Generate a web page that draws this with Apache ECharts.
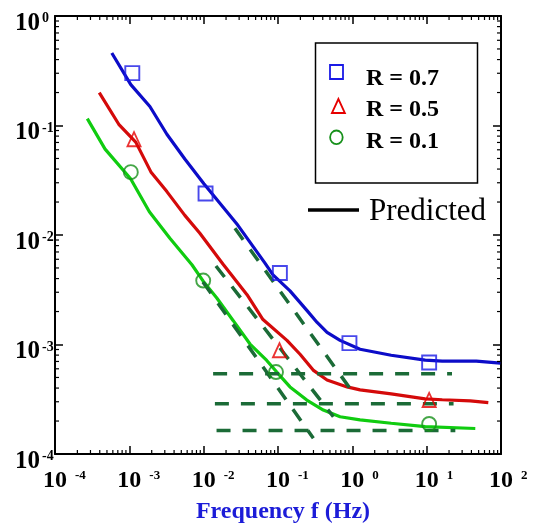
<!DOCTYPE html>
<html>
<head>
<meta charset="utf-8">
<script src="https://cdn.jsdelivr.net/npm/echarts@6.0.0/dist/echarts.min.js"></script>
<style>
  html, body { margin: 0; padding: 0; background: #ffffff; }
  #chart { width: 534px; height: 529px; }
</style>
</head>
<body>
<div id="chart"></div>
<script>
// ---- Predicted curves (frequency in Hz, response value) ----
const freqR07 = [5.81e-4, 1.047e-3, 1.89e-3, 3.20e-3, 5.58e-3, 0.01007, 0.0289, 0.0668, 0.0857, 0.145, 0.246, 0.336, 0.457, 0.684, 1.27, 3.33, 9.55, 16.2, 46.5, 98];
const valR07  = [0.459, 0.236, 0.149, 0.0832, 0.0494, 0.0294, 0.01225, 5.54e-3, 4.32e-3, 3.09e-3, 2.04e-3, 1.59e-3, 1.29e-3, 1.09e-3, 9.05e-4, 7.98e-4, 7.19e-4, 7.05e-4, 7.05e-4, 6.76e-4];

const freqR05 = [3.94e-4, 7.21e-4, 1.22e-3, 1.95e-3, 3.20e-3, 5.58e-3, 8.89e-3, 0.01815, 0.0383, 0.0628, 0.132, 0.198, 0.297, 0.457, 0.851, 1.27, 3.33, 9.55, 16.2, 38.6, 67.5];
const valR05  = [0.1997, 0.1026, 0.0705, 0.0377, 0.0249, 0.0151, 0.01036, 5.43e-3, 2.85e-3, 1.69e-3, 1.09e-3, 8.15e-4, 5.84e-4, 4.74e-4, 4.10e-4, 3.85e-4, 3.54e-4, 3.19e-4, 3.13e-4, 3.06e-4, 2.94e-4];

const freqR01 = [2.72e-4, 4.72e-4, 1.04e-3, 1.86e-3, 3.51e-3, 6.95e-3, 9.86e-3, 0.01493, 0.0250, 0.0420, 0.0705, 0.0962, 0.145, 0.244, 0.407, 0.684, 1.27, 3.33, 9.55, 45.1];
const valR01  = [0.1155, 0.0609, 0.0326, 0.0163, 9.33e-3, 5.35e-3, 3.79e-3, 2.67e-3, 1.65e-3, 1.01e-3, 7.15e-4, 5.60e-4, 4.10e-4, 3.11e-4, 2.52e-4, 2.19e-4, 2.05e-4, 1.91e-4, 1.78e-4, 1.71e-4];

// ---- Measured points ----
const measFreqR07 = [1.096e-3, 0.0106, 0.106, 0.914, 10.8];
const measValR07  = [0.301, 0.0239, 4.50e-3, 1.03e-3, 6.85e-4];
const measFreqR05 = [1.156e-3, 0.1047, 10.8];
const measValR05  = [0.075, 8.87e-4, 3.12e-4];
const measFreqR01 = [1.047e-3, 9.86e-3, 0.094, 10.8];
const measValR01  = [0.0375, 3.84e-3, 5.60e-4, 1.88e-4];

// ---- Asymptote guides: sloped low-frequency lines and high-frequency plateaus ----
const slopeFreqA = [9.77e-3, 0.299];  const slopeValA = [3.73e-3, 1.39e-4];
const slopeFreqB = [0.01462, 0.556];  const slopeValB = [5.21e-3, 2.19e-4];
const slopeFreqC = [0.02636, 0.933];  const slopeValC = [0.0115, 3.96e-4];
const plateauFreq1 = [0.0134, 21.9];  const plateauVal1 = [5.41e-4, 5.41e-4];
const plateauFreq2 = [0.01416, 23.0]; const plateauVal2 = [2.88e-4, 2.88e-4];
const plateauFreq3 = [0.0149, 24.3];  const plateauVal3 = [1.64e-4, 1.64e-4];

// ---- Tick labels (exponents of the decades) ----
const xTickExps = ['-4', '-3', '-2', '-1', '0', '1', '2'];
const yTickExps = ['-4', '-3', '-2', '-1', '0'];
const seriesNames = ['R = 0.7', 'R = 0.5', 'R = 0.1'];

const zip = (xs, ys) => xs.map((x, i) => [x, ys[i]]);

function minorTicks(loExp, hiExp) {
  const out = [];
  for (let e = loExp; e < hiExp; e++) {
    for (let m = 2; m <= 9; m++) out.push(m * Math.pow(10, e));
  }
  return out;
}

const SERIF = "'Liberation Serif', 'Times New Roman', serif";
const BLUE_LINE = '#0c0cc8', BLUE_MARK = '#1a1ae6';
const RED_LINE = '#d40a0a', RED_MARK = '#e60000';
const GREEN_LINE = '#10cc10', GREEN_MARK = '#16901a';
const GUIDE = '#1b6b37';

const chart = echarts.init(document.getElementById('chart'), null, { renderer: 'canvas' });

const xRich = {
  b: { fontFamily: SERIF, fontWeight: 'bold', fontSize: 24, lineHeight: 24, color: '#000' },
  s: { fontFamily: SERIF, fontWeight: 'bold', fontSize: 13, lineHeight: 10, verticalAlign: 'top', padding: [0, 0, 0, 8], color: '#000' },
  p: { fontFamily: SERIF, fontWeight: 'bold', fontSize: 13, lineHeight: 10, verticalAlign: 'top', padding: [0, 8, 0, 0], color: 'transparent' }
};
const yRich = {
  b: { fontFamily: SERIF, fontWeight: 'bold', fontSize: 25, lineHeight: 24, color: '#000' },
  s: { fontFamily: SERIF, fontWeight: 'bold', fontSize: 14, lineHeight: 10, verticalAlign: 'top', padding: [0, 0, 0, 2], color: '#000' }
};

function decadeIndex(v, lo) { return Math.round(Math.log10(v)) - lo; }

const frameLine = { show: true, onZero: false, lineStyle: { color: '#000', width: 2 } };
const majorTick = { show: true, inside: true, length: 8, lineStyle: { color: '#000', width: 1.5 } };

function guideSeries(fx, vy) {
  return {
    type: 'line', data: zip(fx, vy), showSymbol: false, silent: true, z: 4,
    lineStyle: { color: GUIDE, width: 3.5, type: [14, 12], cap: 'butt' }
  };
}

const option = {
  animation: false,
  backgroundColor: '#ffffff',
  grid: { left: 55, top: 16, width: 446, height: 442 },
  xAxis: [
    {
      type: 'log', logBase: 10, min: 1e-4, max: 1e2, splitNumber: 6, position: 'bottom',
      axisLine: frameLine, axisTick: majorTick, splitLine: { show: false },
      axisLabel: {
        margin: 15, showMinLabel: true, showMaxLabel: true,
        formatter: v => { const e = xTickExps[decadeIndex(v, -4)]; return '{p|' + e + '}{b|10}{s|' + e + '}'; },
        rich: xRich
      },
      name: 'Frequency f (Hz)', nameLocation: 'middle', nameGap: 46,
      nameTextStyle: { fontFamily: SERIF, fontWeight: 'bold', fontSize: 24, color: '#1c1cd8', padding: [0, 0, 0, 10] }
    },
    {
      type: 'log', logBase: 10, min: 1e-4, max: 1e2, splitNumber: 6, position: 'top',
      axisLine: frameLine, axisTick: majorTick, splitLine: { show: false }, axisLabel: { show: false }
    }
  ],
  yAxis: [
    {
      type: 'log', logBase: 10, min: 1e-4, max: 1, splitNumber: 4, position: 'left',
      axisLine: frameLine, axisTick: majorTick, splitLine: { show: false },
      axisLabel: {
        margin: 40, align: 'left', padding: [15, 0, 0, 0], showMinLabel: true, showMaxLabel: true,
        formatter: v => '{b|10}{s|' + yTickExps[decadeIndex(v, -4)] + '}',
        rich: yRich
      }
    },
    {
      type: 'log', logBase: 10, min: 1e-4, max: 1, splitNumber: 4, position: 'right',
      axisLine: frameLine, axisTick: majorTick, splitLine: { show: false }, axisLabel: { show: false }
    }
  ],
  series: [
    // minor decade ticks along bottom and top
    {
      type: 'custom', silent: true, z: 5, clip: false,
      data: minorTicks(-4, 2).map(v => [v, 1]),
      renderItem: (params, api) => {
        const cs = params.coordSys;
        const x = api.coord([api.value(0), 1])[0];
        const st = { stroke: '#000', lineWidth: 1.2 };
        return { type: 'group', children: [
          { type: 'line', shape: { x1: x, y1: cs.y + cs.height, x2: x, y2: cs.y + cs.height - 4 }, style: st },
          { type: 'line', shape: { x1: x, y1: cs.y, x2: x, y2: cs.y + 4 }, style: st }
        ] };
      }
    },
    // minor decade ticks along left and right
    {
      type: 'custom', silent: true, z: 5, clip: false,
      data: minorTicks(-4, 0).map(v => [1, v]),
      renderItem: (params, api) => {
        const cs = params.coordSys;
        const y = api.coord([1, api.value(1)])[1];
        const st = { stroke: '#000', lineWidth: 1.2 };
        return { type: 'group', children: [
          { type: 'line', shape: { x1: cs.x, y1: y, x2: cs.x + 4, y2: y }, style: st },
          { type: 'line', shape: { x1: cs.x + cs.width, y1: y, x2: cs.x + cs.width - 4, y2: y }, style: st }
        ] };
      }
    },
    // predicted curves
    { name: seriesNames[0], type: 'line', data: zip(freqR07, valR07), showSymbol: false, z: 3, lineStyle: { color: BLUE_LINE, width: 3.2 } },
    { name: seriesNames[1], type: 'line', data: zip(freqR05, valR05), showSymbol: false, z: 3, lineStyle: { color: RED_LINE, width: 3.2 } },
    { name: seriesNames[2], type: 'line', data: zip(freqR01, valR01), showSymbol: false, z: 3, lineStyle: { color: GREEN_LINE, width: 3.2 } },
    // asymptote guides
    guideSeries(slopeFreqA, slopeValA),
    guideSeries(slopeFreqB, slopeValB),
    guideSeries(slopeFreqC, slopeValC),
    guideSeries(plateauFreq1, plateauVal1),
    guideSeries(plateauFreq2, plateauVal2),
    guideSeries(plateauFreq3, plateauVal3),
    // measured points
    { name: seriesNames[0], type: 'scatter', data: zip(measFreqR07, measValR07), symbol: 'rect', symbolSize: 14, z: 6,
      itemStyle: { color: 'transparent', borderColor: BLUE_MARK, borderWidth: 1.9 } },
    { name: seriesNames[1], type: 'scatter', data: zip(measFreqR05, measValR05), symbol: 'triangle', symbolSize: [13, 14], z: 6,
      itemStyle: { color: 'transparent', borderColor: RED_MARK, borderWidth: 1.9 } },
    { name: seriesNames[2], type: 'scatter', data: zip(measFreqR01, measValR01), symbol: 'circle', symbolSize: 14, z: 6,
      itemStyle: { color: 'transparent', borderColor: GREEN_MARK, borderWidth: 1.9 } }
  ],
  graphic: [
    // key box for the measured series
    { type: 'rect', shape: { x: 315.5, y: 43, width: 162, height: 140 }, style: { fill: '#fff', stroke: '#000', lineWidth: 1.5 }, z: 10 },
    { type: 'rect', shape: { x: 330, y: 65, width: 13, height: 14 }, style: { fill: 'none', stroke: BLUE_MARK, lineWidth: 1.8 }, z: 11 },
    { type: 'polygon', shape: { points: [[338.4, 99], [331.9, 113], [344.9, 113]] }, style: { fill: 'none', stroke: RED_MARK, lineWidth: 1.8 }, z: 11 },
    { type: 'ellipse', shape: { cx: 336.4, cy: 137.3, rx: 6.3, ry: 6.8 }, style: { fill: 'none', stroke: GREEN_MARK, lineWidth: 1.8 }, z: 11 },
    { type: 'text', x: 366, y: 79, z: 11, style: { text: seriesNames[0], font: 'bold 24px ' + SERIF, fill: '#000', verticalAlign: 'middle' } },
    { type: 'text', x: 366, y: 110, z: 11, style: { text: seriesNames[1], font: 'bold 24px ' + SERIF, fill: '#000', verticalAlign: 'middle' } },
    { type: 'text', x: 366, y: 141.5, z: 11, style: { text: seriesNames[2], font: 'bold 24px ' + SERIF, fill: '#000', verticalAlign: 'middle' } },
    // key entry for the predicted curves
    { type: 'line', shape: { x1: 308, y1: 210, x2: 359, y2: 210 }, style: { stroke: '#000', lineWidth: 3.5 }, z: 11 },
    { type: 'text', x: 369, y: 211.5, z: 11, style: { text: 'Predicted', font: '31px ' + SERIF, fill: '#000', verticalAlign: 'middle' } }
  ]
};

chart.setOption(option);
</script>
</body>
</html>
